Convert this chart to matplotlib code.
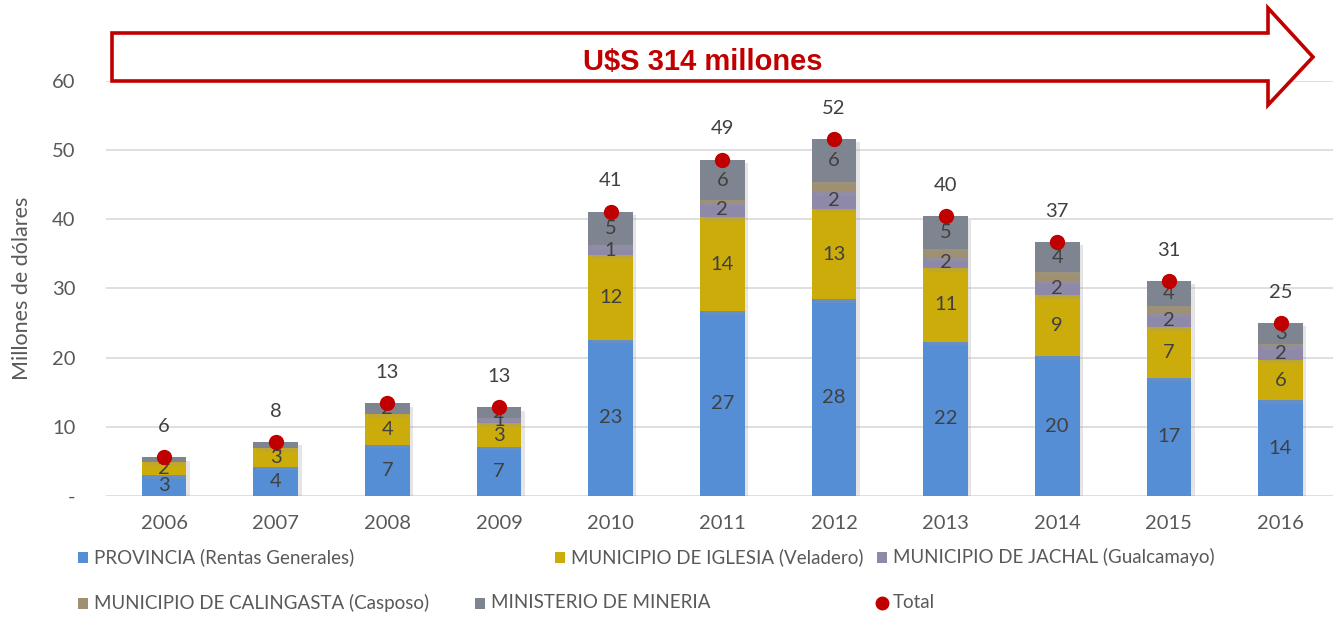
import matplotlib
matplotlib.use("Agg")
import matplotlib.pyplot as plt
import matplotlib.patheffects as pe
from matplotlib.patches import Polygon, Rectangle
from matplotlib.lines import Line2D
import numpy as np

plt.rcParams['font.family'] = ['Lato', 'DejaVu Sans']

# Data (millones de dolares)
years = ['2006', '2007', '2008', '2009', '2010', '2011', '2012', '2013', '2014', '2015', '2016']
provincia = [3.0, 4.2, 7.4, 7.1, 22.6, 26.7, 28.4, 22.3, 20.2, 17.1, 13.8]
iglesia = [1.9, 2.7, 4.4, 3.4, 12.2, 13.6, 13.1, 10.6, 8.8, 7.3, 5.9]
jachal = [0.0, 0.0, 0.0, 0.7, 1.4, 2.1, 2.4, 1.6, 2.1, 2.0, 1.9]
calingasta = [0.0, 0.0, 0.0, 0.0, 0.0, 0.3, 1.5, 1.2, 1.2, 1.0, 0.4]
mineria = [0.7, 0.9, 1.6, 1.6, 4.9, 5.9, 6.2, 4.7, 4.4, 3.7, 3.0]

series_names = ['PROVINCIA (Rentas Generales)', 'MUNICIPIO DE IGLESIA (Veladero)',
                'MUNICIPIO DE JACHAL (Gualcamayo)', 'MUNICIPIO DE CALINGASTA (Casposo)',
                'MINISTERIO DE MINERIA']
total_name = 'Total'
arrow_text = 'U$S 314 millones'

colors = ['#558ED5', '#CCAC0B', '#8E89A9', '#9E9070', '#7F8590']
show_labels = [True, True, True, False, True]
red = '#C00000'
txt = '#404040'

W, H = 1336, 617
fig = plt.figure(figsize=(W / 100, H / 100), dpi=100)
ax = fig.add_axes([106 / W, 1 - 496 / H, (1333 - 106) / W, (496 - 80.7) / H])

x = np.arange(len(years))
series = [provincia, iglesia, jachal, calingasta, mineria]
bottom = np.zeros(len(years))
shadow = [pe.SimplePatchShadow(offset=(2.5, -2.5), shadow_rgbFace='#999999', alpha=0.25), pe.Normal()]
for vals, col, lab in zip(series, colors, show_labels):
    vals = np.array(vals)
    bars = ax.bar(x, vals, 0.4, bottom=bottom, color=col, zorder=2)
    for b in bars:
        b.set_path_effects(shadow)
    if lab:
        for xi, v, b0 in zip(x, vals, bottom):
            if v > 0:
                ax.text(xi, b0 + v / 2, f'{v:.0f}', ha='center', va='center',
                        fontsize=14.5, color=txt, zorder=4)
    bottom = bottom + vals

totals = bottom
ax.plot(x, totals, 'o', color=red, markersize=10, linestyle='none', zorder=5)
for xi, t in zip(x, totals):
    ax.annotate(f'{t:.0f}', (xi, t), xytext=(0, 16), textcoords='offset points',
                ha='center', va='bottom', fontsize=14.5, color=txt)

ax.set_xlim(-0.52, 10.47)
ax.set_ylim(0, 60)
ax.set_yticks(range(0, 61, 10))
ax.set_yticklabels(['-'] + [str(v) for v in range(10, 61, 10)])
ax.set_xticks(x)
ax.set_xticklabels(years)
ax.tick_params(length=0, labelsize=14.5, labelcolor='#595959', pad=14)
ax.tick_params(axis='y', pad=22)
ax.grid(axis='y', color='#D9D9D9', linewidth=1.2, zorder=0)
ax.set_axisbelow(True)
for s in ax.spines.values():
    s.set_visible(False)
ax.set_ylabel('Millones de dólares', fontsize=15.5, color='#595959', labelpad=14)

# arrow annotation in figure pixel coordinates
pts = [(112, 33), (1268, 33), (1268, 8), (1313, 57), (1268, 105), (1268, 81), (112, 81)]
poly = Polygon([(px / W, 1 - py / H) for px, py in pts], closed=True, transform=fig.transFigure,
               facecolor='white', edgecolor=red, linewidth=2.6, zorder=10)
fig.patches.append(poly)
fig.text(703 / W, 1 - 62 / H, arrow_text, ha='center', va='center', fontsize=21,
         fontweight='bold', color=red, family=['Liberation Sans', 'DejaVu Sans'], zorder=11)

# legend, laid out like the original
leg_pos = [(78, 557), (555, 557), (877, 557), (78, 603), (475, 603)]
for (px, py), name, col in zip(leg_pos, series_names, colors):
    fig.patches.append(Rectangle((px / W, 1 - (py + 5.5) / H), 10 / W, 11 / H,
                                 transform=fig.transFigure, facecolor=col, edgecolor='none'))
    fig.text((px + 16) / W, 1 - py / H, name, ha='left', va='center', fontsize=13.5, color='#595959')
fig.lines.append(Line2D([882 / W], [1 - 603 / H], marker='o', color=red, markersize=9,
                        linestyle='none', transform=fig.transFigure))
fig.text(893 / W, 1 - 603 / H, total_name, ha='left', va='center', fontsize=13.5, color='#595959')

fig.savefig('out.png', dpi=100)
